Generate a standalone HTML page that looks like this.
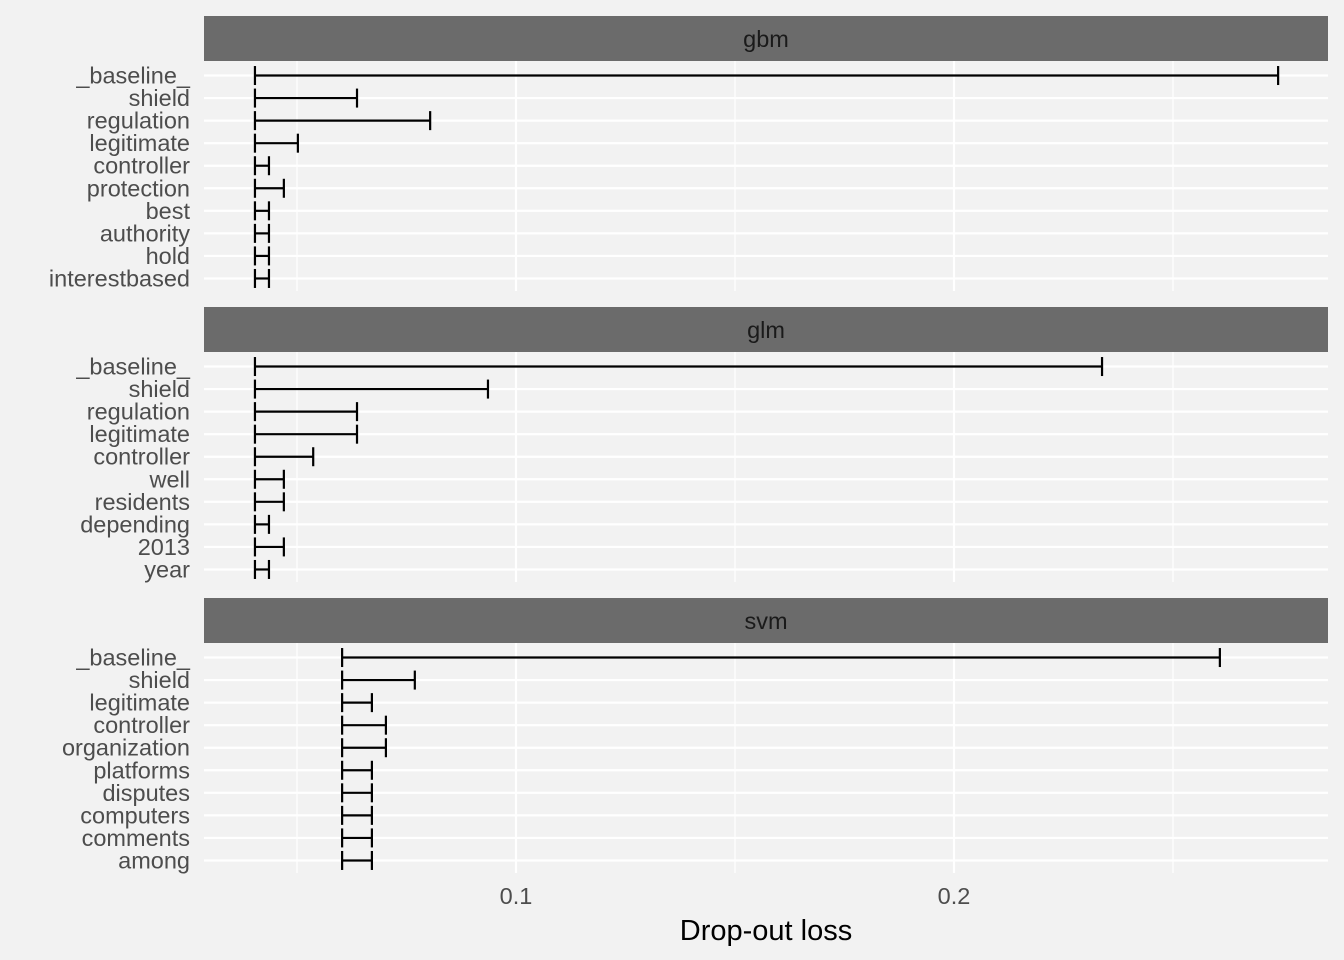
<!DOCTYPE html>
<html><head><meta charset="utf-8"><style>
body{margin:0;background:#f2f2f2;}
svg{display:block;font-family:"Liberation Sans",Arial,sans-serif;}
</style></head><body>
<svg id="chart" width="1344" height="960">
<rect width="1344" height="960" fill="#f2f2f2"/>
</svg>
<script>
const models = ["gbm","glm","svm"];
const fullLoss = [0.0404, 0.0404, 0.0603];
const gbmVars = ["_baseline_","shield","regulation","legitimate","controller","protection","best","authority","hold","interestbased"];
const gbmLoss = [0.274,0.0637,0.0804,0.0502,0.0436,0.047,0.0436,0.0436,0.0436,0.0436];
const glmVars = ["_baseline_","shield","regulation","legitimate","controller","well","residents","depending","2013","year"];
const glmLoss = [0.2338,0.0936,0.0637,0.0637,0.0537,0.047,0.047,0.0436,0.047,0.0436];
const svmVars = ["_baseline_","shield","legitimate","controller","organization","platforms","disputes","computers","comments","among"];
const svmLoss = [0.2607,0.0769,0.0671,0.0703,0.0703,0.0671,0.0671,0.0671,0.0671,0.0671];
const xTicks = [0.1, 0.2];
const xMinor = [0.05, 0.15, 0.25];

const NS="http://www.w3.org/2000/svg";
const svg=document.getElementById('chart');
function el(t,a,p){const e=document.createElementNS(NS,t);for(const k in a)e.setAttribute(k,a[k]);(p||svg).appendChild(e);return e;}
const X0=204,X1=1328;
function xs(v){return 516+(v-0.1)*4380;}
const vars=[gbmVars,glmVars,svmVars], losses=[gbmLoss,glmLoss,svmLoss];
const stripTops=[16,307,598];
models.forEach((m,i)=>{
  const g=el('g',{});
  
  
  const st=stripTops[i], pt=st+45, pb=pt+230;
  const strip=el('rect',{x:X0,y:st,width:X1-X0,height:45,fill:'#6b6b6b'},g);
  
  
  const stx=el('text',{x:(X0+X1)/2,y:st+31,'text-anchor':'middle','font-size':23.5,fill:'#1a1a1a'},g);
  stx.textContent=m;
  
  
  const n=vars[i].length, step=230/(n-1+1.2);
  const ys=k=>pt+1+(0.6+k)*step;
  xMinor.forEach(v=>{el('line',{x1:xs(v),x2:xs(v),y1:pt,y2:pb,stroke:'#fff','stroke-width':1.2},g);});
  xTicks.forEach(v=>{el('line',{x1:xs(v),x2:xs(v),y1:pt,y2:pb,stroke:'#fff','stroke-width':2.2},g);});
  vars[i].forEach((name,k)=>{
    const y=ys(k);
    el('line',{x1:X0,x2:X1,y1:y,y2:y,stroke:'#fff','stroke-width':2.2},g);
    const t=el('text',{x:190,y:y+8,'text-anchor':'end','font-size':23.5,fill:'#4d4d4d'},g);
    t.textContent=name;
    
    
  });
  vars[i].forEach((name,k)=>{
    const y=ys(k), a=xs(fullLoss[i]), b=xs(losses[i][k]);
    const bar=el('g',{stroke:'#000','stroke-width':2.2,fill:'none'},g);
    
    
    el('line',{x1:a,x2:b,y1:y,y2:y},bar);
    el('line',{x1:a,x2:a,y1:y-9.5,y2:y+9.5},bar);
    el('line',{x1:b,x2:b,y1:y-9.5,y2:y+9.5},bar);
  });
});
xTicks.forEach(v=>{
  const t=el('text',{x:xs(v),y:904,'text-anchor':'middle','font-size':23.5,fill:'#4d4d4d'});
  t.textContent=String(v);
  
  
});
const xt=el('text',{x:766,y:940,'text-anchor':'middle','font-size':29,fill:'#000'});
xt.textContent='Drop-out loss';


</script>
</body></html>
